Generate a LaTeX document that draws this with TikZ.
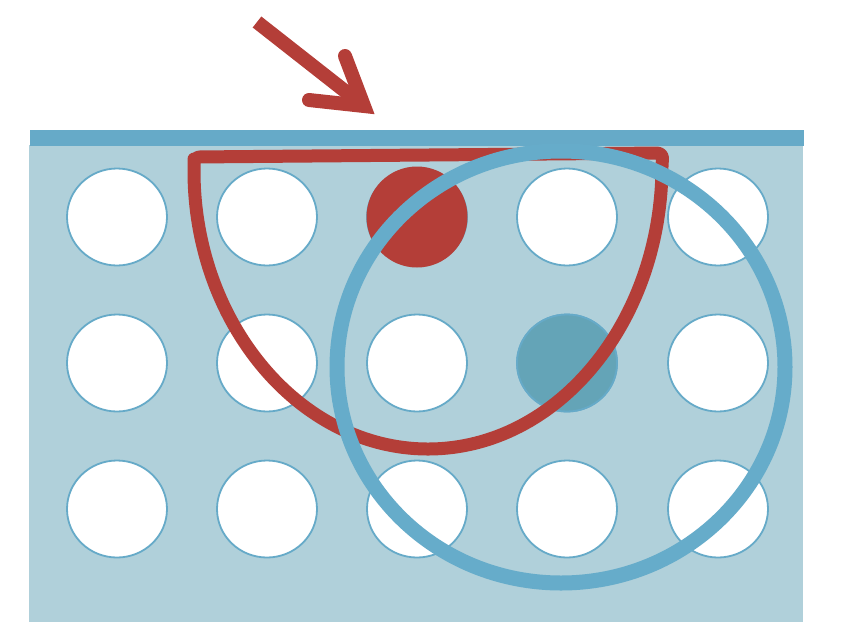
\documentclass[tikz,border=0pt]{standalone}
\usepackage{tikz}
\usetikzlibrary{shapes.geometric}
\definecolor{plbg}{RGB}{176,208,218}
\definecolor{plbar}{RGB}{102,170,200}
\definecolor{plred}{RGB}{180,62,56}
\definecolor{pldark}{RGB}{100,164,183}
\definecolor{plring}{RGB}{102,172,202}
\tikzset{
  hole/.style={
    ellipse, draw=plbar, line width=1.8pt, fill=white,
    minimum width=100pt, minimum height=97pt, inner sep=0pt
  },
  reddot/.style={circle, fill=plred, minimum size=101pt, inner sep=0pt},
  darkdot/.style={hole, fill=pldark},
  redline/.style={draw=plred, line width=13pt, line join=round},
  ringline/.style={draw=plring, line width=15pt},
  arrowline/.style={draw=plred, line width=14pt}
}

\begin{document}
\begin{tikzpicture}[x=1pt,y=-1pt]
  \useasboundingbox (0,0) rectangle (867,622);
  % plate and top edge
  \fill[plbg] (29,145) rectangle (803,622);
  \fill[plbar] (30,130) rectangle (804,146);
  % holes
  \foreach \r/\y in {1/217, 2/363, 3/509} {
    \foreach \c/\x in {1/117, 2/267, 3/417, 4/567, 5/718} {
      \node[hole] (h\r\c) at (\x,\y) {};
    }
  }
  \node[reddot] (red) at (h13) {};
  \node[darkdot] (dark) at (h24) {};
  % red half loop
  \draw[redline] (194,165) arc[start angle=180, end angle=0,
      x radius=234, y radius=284]
    [rounded corners=6pt] -- (663,153) -- (194,157) -- cycle;
  % blue ring
  \node[ellipse, ringline, minimum width=448pt, minimum height=432pt,
    inner sep=0pt] (ring) at (561,367) {};
  % arrow
  \coordinate (tail) at (257,22);
  \coordinate (tip) at (364,106);
  \coordinate (armA) at (345,56);
  \coordinate (armB) at (309,100);
  \draw[arrowline] (tail) -- (tip);
  \draw[arrowline, line cap=round, line join=miter] (armA) -- (tip) -- (armB);
\end{tikzpicture}
\end{document}
